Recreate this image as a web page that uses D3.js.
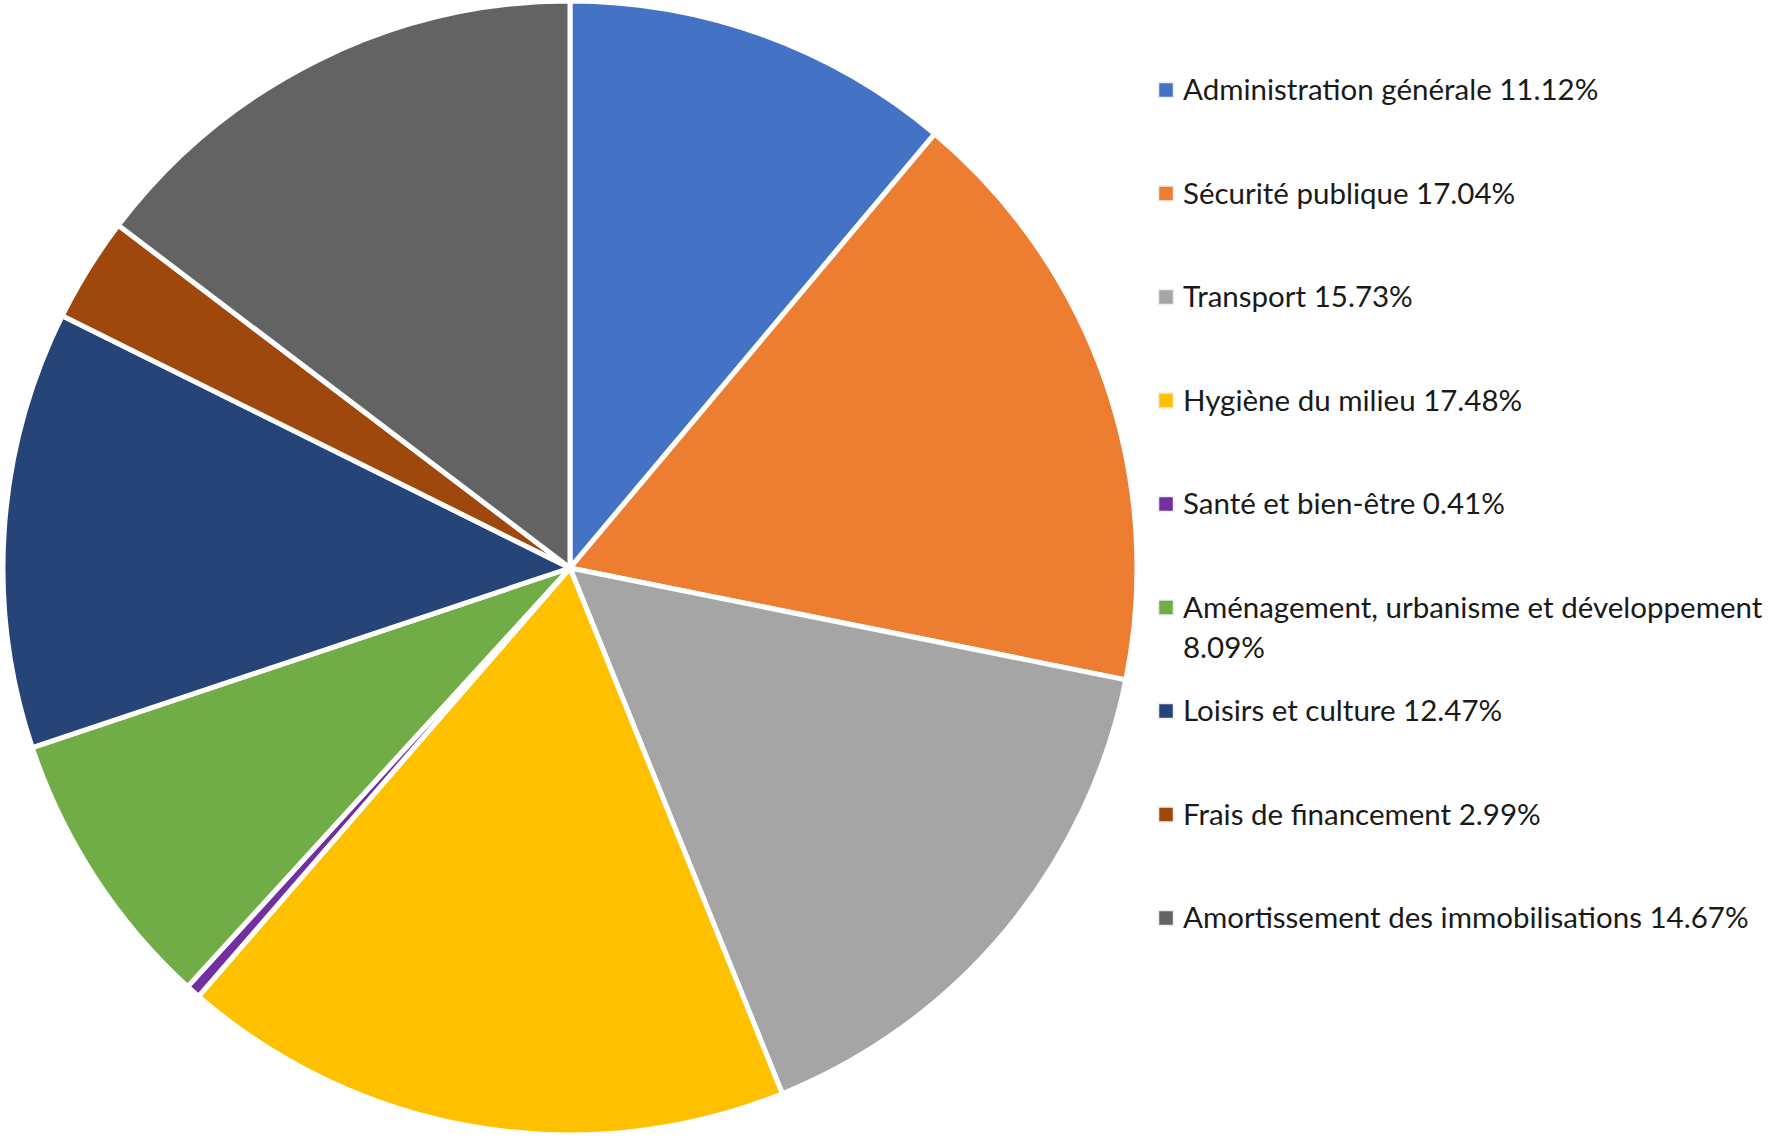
<!DOCTYPE html>
<html>
<head>
<meta charset="utf-8">
<script src="https://cdn.jsdelivr.net/npm/d3@7"></script>
<style>
  body { margin: 0; background: #fff; }
  svg { display: block; }
</style>
</head>
<body>
<svg id="chart" width="1776" height="1139"></svg>
<script>
var categories = [
    "Administration générale",
    "Sécurité publique",
    "Transport",
    "Hygiène du milieu",
    "Santé et bien-être",
    "Aménagement, urbanisme et développement",
    "Loisirs et culture",
    "Frais de financement",
    "Amortissement des immobilisations"
];
var shares = [11.12, 17.04, 15.73, 17.48, 0.41, 8.09, 12.47, 2.99, 14.67];
var colors = ["#4472C4", "#ED7D31", "#A5A5A5", "#FFC000", "#7030A0",
              "#70AD47", "#264478", "#9E480E", "#636363"];

var svg = d3.select("#chart"),
    cx = 570,
    cy = 568,
    radius = 567,
    legendX = 1166,
    legendY = 90,
    legendStep = 103.5,
    textX = 1183,
    fontSize = 29.5;

var items = categories.map(function(c, i) {
    return { name: c, value: shares[i], color: colors[i] };
});

// pie, clockwise from 12 o'clock, no sorting
var pie = d3.pie().sort(null).value(function(d) { return d.value; });
var arc = d3.arc().innerRadius(0).outerRadius(radius);

svg.append("g")
    .attr("transform", "translate(" + cx + "," + cy + ")")
    .selectAll("path")
    .data(pie(items))
    .join("path")
        .attr("d", arc)
        .attr("fill", function(d) { return d.data.color; })
        .attr("stroke", "#fff")
        .attr("stroke-width", 5)
        .attr("stroke-linejoin", "round");

// legend
var legend = svg.append("g").attr("font-family", "Lato, 'Open Sans', sans-serif")
    .attr("font-size", fontSize)
    .attr("fill", "#1a1a1a");

var maxW = 1776 - textX - 4;

items.forEach(function(d, i) {
    var y = legendY + i * legendStep,
        g = legend.append("g");

    g.append("rect")
        .attr("x", legendX - 7.5)
        .attr("y", y - 7.5)
        .attr("width", 15)
        .attr("height", 15)
        .attr("fill", d.color)
        .attr("stroke", "#eeeeee")
        .attr("stroke-width", 1.5);

    var text = g.append("text")
        .attr("x", textX)
        .attr("y", y);

    // simple word wrap
    var words = (d.name + " " + d.value.toFixed(2) + "%").split(" "),
        line = [],
        lineNo = 0,
        tspan = text.append("tspan").attr("x", textX).attr("dy", "0.35em");

    words.forEach(function(w) {
        line.push(w);
        tspan.text(line.join(" "));
        if (tspan.node().getComputedTextLength() > maxW && line.length > 1) {
            line.pop();
            tspan.text(line.join(" "));
            line = [w];
            lineNo += 1;
            tspan = text.append("tspan")
                .attr("x", textX)
                .attr("y", y + lineNo * 40)
                .attr("dy", "0.35em")
                .text(w);
        }
    });
});
</script>
</body>
</html>
